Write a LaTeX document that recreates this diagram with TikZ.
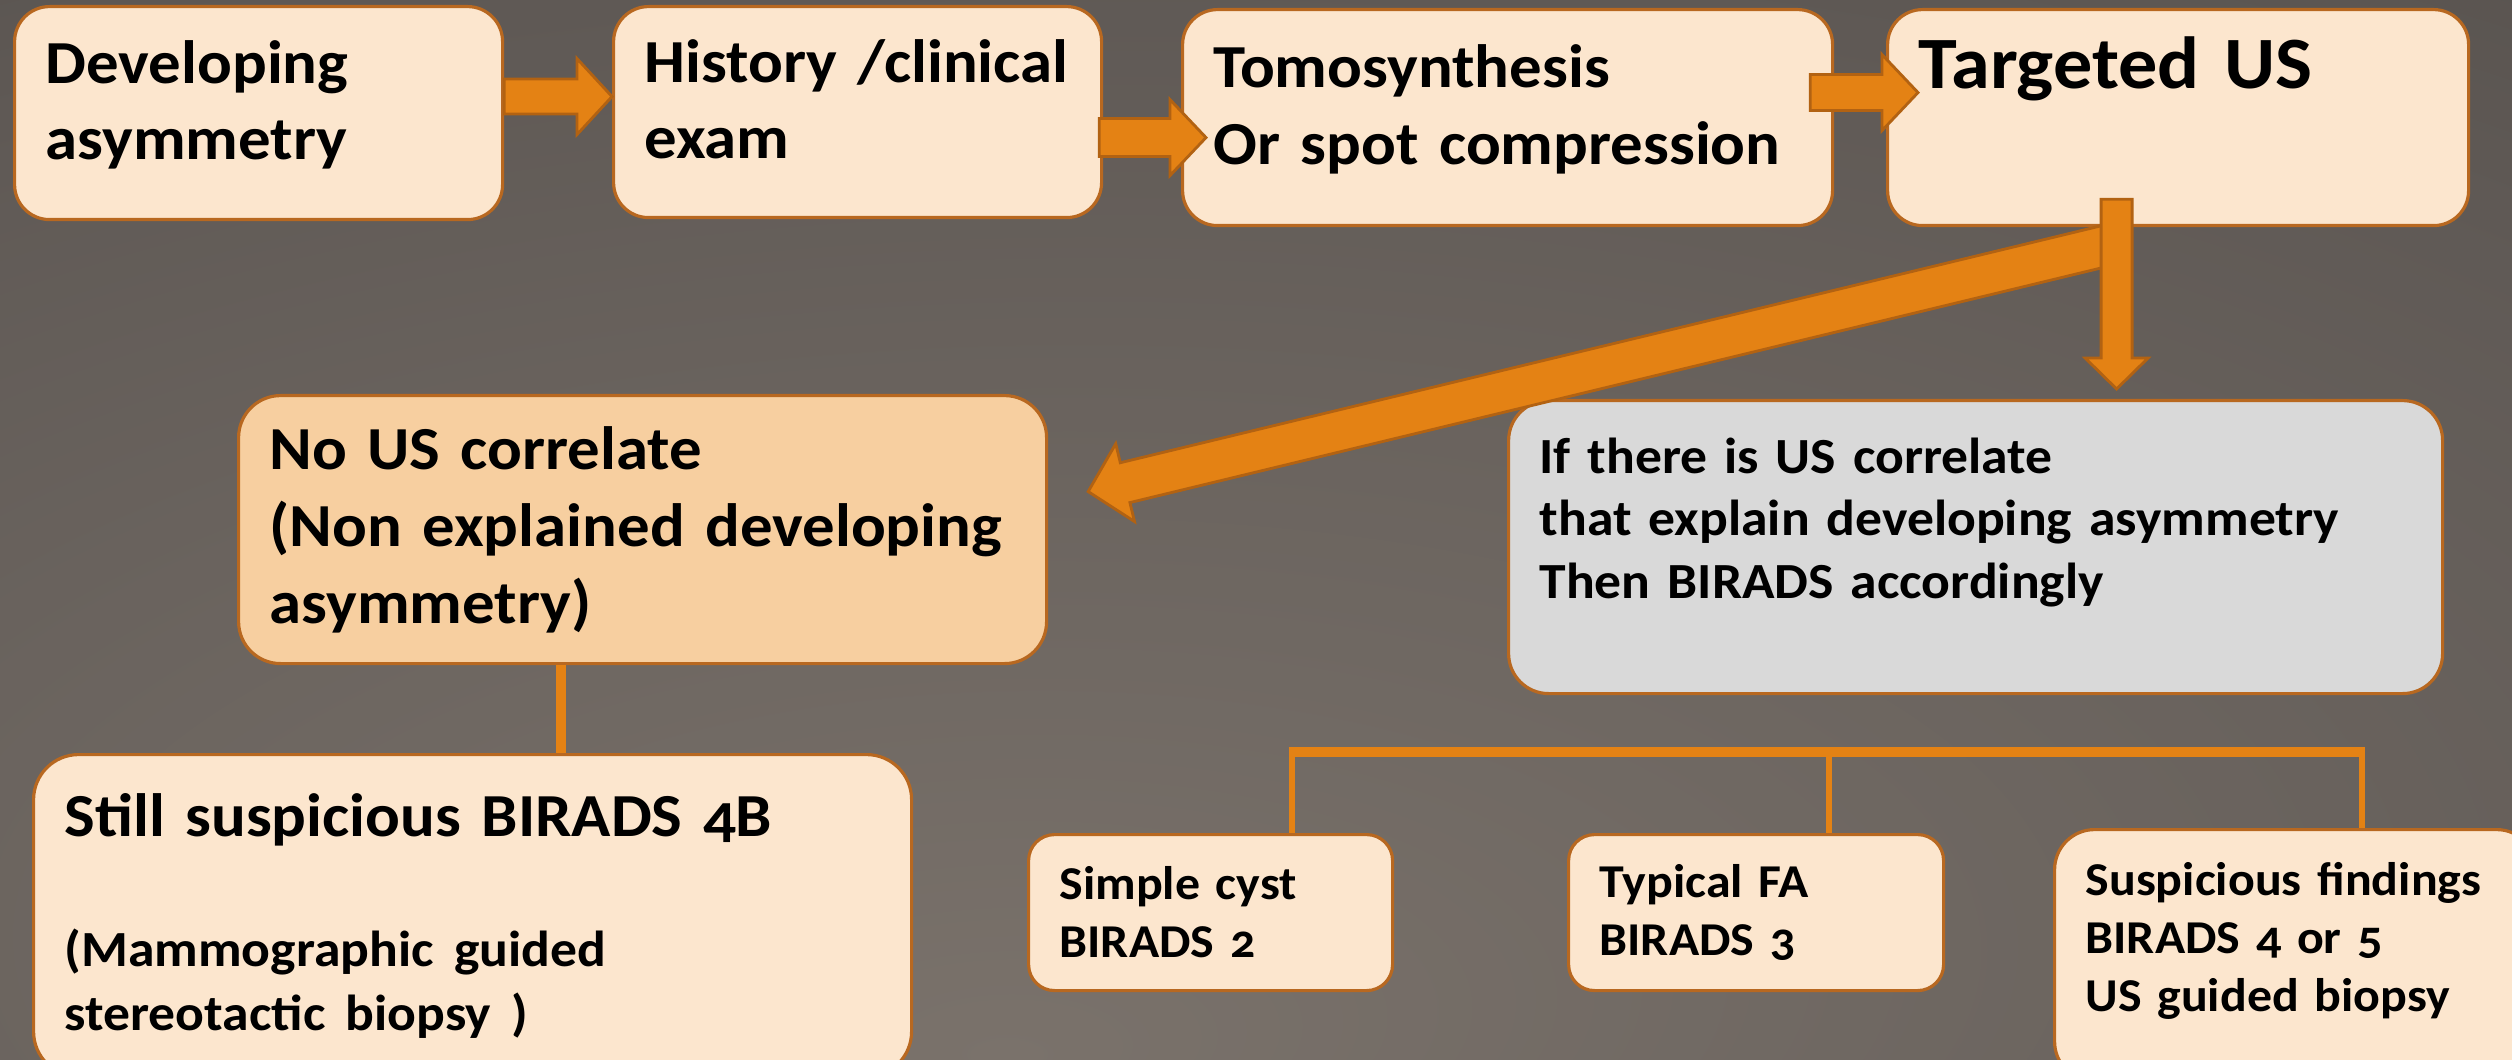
\documentclass[tikz,border=0pt]{standalone}
\usepackage{fontspec}
\setmainfont{Carlito}[FakeStretch=1.06, Numbers=OldStyle, WordSpace=0.85]
\usetikzlibrary{
  calc,%
  positioning
}
\definecolor{bgdark}{RGB}{58,56,52}
\definecolor{bgmid}{RGB}{95,89,85}
\definecolor{bglight}{RGB}{122,114,107}
\definecolor{boxline}{RGB}{184,104,32}
\definecolor{boxfill}{RGB}{252,230,206}
\definecolor{corrfill}{RGB}{247,207,160}
\definecolor{greyfill}{RGB}{217,217,217}
\definecolor{arrowfill}{RGB}{228,130,20}
\definecolor{arrowline}{RGB}{178,98,18}

\pgfdeclareradialshading{bgglow}{\pgfpoint{-5bp}{-25bp}}{%
  color(0bp)=(bglight); color(40bp)=(bgmid); color(90bp)=(bgdark)}

\tikzset{box/.style={draw=boxline, line width=0.9pt, fill=boxfill,
    anchor=north west, align=left, inner xsep=3.1mm, inner ysep=0pt,
    rounded corners=3.5mm}}
\tikzset{bigtext/.style={font=\bfseries\fontsize{17.4}{21.9}\selectfont}}
\tikzset{toptext/.style={font=\bfseries\fontsize{21}{23}\selectfont}}
\tikzset{midtext/.style={font=\bfseries\fontsize{14.4}{17.9}\selectfont}}
\tikzset{smalltext/.style={font=\bfseries\fontsize{13.4}{16.5}\selectfont}}
\tikzset{arrowbody/.style={fill=arrowfill, draw=arrowline, line width=0.8pt}}
\tikzset{branch/.style={draw=arrowfill}}

\newcommand{\gsmall}{\fontsize{14.4}{18.2}\selectfont}
% block arrow: from, to, half shaft, half head, head length
\newcommand{\blockarrow}[5]{%
  \coordinate (bahead) at ($(#2)!#5!(#1)$);
  \filldraw[arrowbody] ($(#1)!#3!90:(#2)$) -- ($(bahead)!#3!90:(#2)$)
    -- ($(bahead)!#4!90:(#2)$) -- (#2) -- ($(bahead)!#4!-90:(#2)$)
    -- ($(bahead)!#3!-90:(#2)$) -- ($(#1)!#3!-90:(#2)$) -- cycle;
}

\begin{document}
\begin{tikzpicture}
  \useasboundingbox (0,0) rectangle (25.12,10.59);
  \clip (0,0) rectangle (25.12,10.59);
  \shade[shading=bgglow] (0,0) rectangle (25.12,10.59);

  % top row
  \node[box, bigtext, text width=4.26cm, minimum height=2.13cm, text depth=10.3mm] (devasym) at (0.13,10.54) {Developing\\asymmetry};
  \node[box, bigtext, text width=4.26cm, minimum height=2.11cm, text depth=10.3mm] (history) at (6.12,10.54) {History /clinical\\exam};
  \node[box, bigtext, text width=5.88cm, minimum height=2.16cm, text depth=10.3mm] (tomo) at (11.81,10.51) {Tomosynthesis\\Or spot compression};
  \node[box, toptext, text width=5.19cm, minimum height=2.16cm, text height=5.4mm, text depth=11.2mm] (targus) at (18.86,10.51) {Targeted US};

  % middle row
  \node[box, bigtext, fill=corrfill, rounded corners=4.2mm, text width=7.46cm, minimum height=2.68cm] (nocorr) at (2.37,6.65) {No US correlate\\(Non explained developing\\asymmetry)};
  \node[box, midtext, fill=greyfill, rounded corners=4mm, text width=8.72cm, minimum height=2.93cm, text height=3.8mm, text depth=18.6mm] (uscorr) at (15.07,6.60) {If there is US correlate\\that explain developing asymmetry\\Then BIRADS accordingly};

  % bottom row
  \node[box, bigtext, rounded corners=4.5mm, text width=8.16cm, minimum height=3.22cm] (still) at (0.32,3.06) {Still suspicious BIRADS 4B\par\vspace{6.6mm}{\gsmall (Mammographic guided\\stereotactic biopsy )\par}};
  \node[box, smalltext, rounded corners=2.6mm, text width=3.02cm, minimum height=1.56cm] (cyst) at (10.27,2.26) {Simple cyst\\BIRADS 2};
  \node[box, smalltext, rounded corners=2.6mm, text width=3.13cm, minimum height=1.56cm] (fa) at (15.67,2.26) {Typical FA\\BIRADS 3};
  \node[box, smalltext, rounded corners=4mm, text width=4.20cm, minimum height=2.52cm, text height=3.5mm, text depth=15.5mm] (susp) at (20.53,2.31) {Suspicious findings\\BIRADS 4 or 5\\US guided biopsy};

  % arrows
  \coordinate (ab1) at ([yshift=1.65mm]devasym.east);
  \coordinate (ab2) at (ab1 -| history.west);
  \blockarrow{ab1}{ab2}{1.75mm}{3.8mm}{3.5mm}
  \coordinate (bc1) at ([xshift=-0.4mm, yshift=-2.55mm]history.east);
  \coordinate (bc2) at ([xshift=2.5mm]bc1 -| tomo.west);
  \blockarrow{bc1}{bc2}{1.9mm}{3.8mm}{3.6mm}
  \coordinate (cd1) at ([xshift=-2.4mm, yshift=2.5mm]tomo.east);
  \coordinate (cd2) at ([xshift=3.2mm]cd1 -| targus.west);
  \blockarrow{cd1}{cd2}{1.8mm}{3.8mm}{3.6mm}
  \coordinate (dg1) at ([xshift=-6.15mm, yshift=-1.6mm]targus.south);
  \coordinate (dg2) at ([xshift=4mm, yshift=3.8mm]nocorr.east);
  \blockarrow{dg1}{dg2}{2.05mm}{4mm}{3.8mm}
  \coordinate (dn1) at ([xshift=-6.15mm, yshift=2.8mm]targus.south);
  \coordinate (dn2) at ([yshift=1mm]dn1 |- uscorr.north);
  \blockarrow{dn1}{dn2}{1.55mm}{3.15mm}{3.1mm}

  % branches
  \coordinate (stem) at ([xshift=-8.2mm]nocorr.south);
  \draw[branch, line width=1mm] (stem) -- (stem |- still.north);
  \coordinate (legA) at ([xshift=8.1mm]cyst.north);
  \coordinate (legB) at ([xshift=7.25mm]fa.north);
  \coordinate (legC) at ([xshift=6.6mm]susp.north);
  \coordinate (barlevel) at (0,3.07);
  \draw[branch, line width=1mm] ([xshift=-0.3mm]legA |- barlevel) -- ([xshift=0.3mm]legC |- barlevel);
  \foreach \leg in {legA,legB,legC}
    \draw[branch, line width=0.6mm] (\leg |- barlevel) -- (\leg);
\end{tikzpicture}
\end{document}
